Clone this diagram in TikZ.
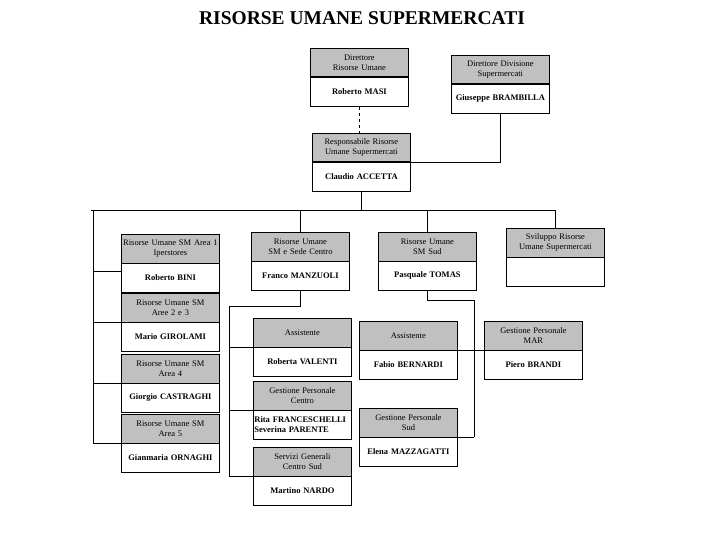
\documentclass[tikz,border=0pt]{standalone}
\usepackage{fontspec}
\setmainfont{Liberation Serif}
\usetikzlibrary{positioning, calc}

\definecolor{headgray}{RGB}{192,192,192}

\begin{document}
\begin{tikzpicture}[x=1pt, y=-1pt, line width=0.8pt,
  head/.style={draw, fill=headgray, anchor=north west, minimum width=98pt,
    minimum height=28.5pt, text width=98pt, inner xsep=0pt, inner ysep=0pt,
    align=center, font=\fontsize{8.5}{10.5}\selectfont},
  body/.style={draw, fill=white, below=0pt of #1, minimum width=98pt,
    minimum height=28.5pt, text width=96pt, inner xsep=1pt, inner ysep=0pt,
    align=center, font=\fontsize{8.5}{10}\selectfont\bfseries}]
  \useasboundingbox (0,0) rectangle (720,540);

  \node[font=\fontsize{19.5}{22}\selectfont\bfseries] (title) at (362,18) {RISORSE UMANE SUPERMERCATI};

  % top management
  \node[head] (dru) at (310,48) {Direttore\\Risorse Umane};
  \node[body=dru] (druN) {Roberto MASI};
  \node[head] (dds) at (451,55) {Direttore Divisione\\Supermercati};
  \node[body=dds] (ddsN) {Giuseppe BRAMBILLA};
  \node[head] (rru) at (312,133) {Responsabile Risorse\\Umane Supermercati};
  \node[body=rru] (rruN) {Claudio ACCETTA};

  % second row
  \node[head] (a1) at (121,234) {Risorse Umane SM Area 1\\Iperstores};
  \node[body=a1] (a1N) {Roberto BINI};
  \node[head] (sc) at (251,232) {Risorse Umane\\SM e Sede Centro};
  \node[body=sc] (scN) {Franco MANZUOLI};
  \node[head] (sud) at (378,232) {Risorse Umane\\SM Sud};
  \node[body=sud] (sudN) {Pasquale TOMAS};
  \node[head] (svi) at (506,228) {Sviluppo Risorse\\Umane Supermercati};
  \node[body=svi] (sviN) {};

  % areas
  \node[head] (a23) at (121,293) {Risorse Umane SM\\Aree 2 e 3};
  \node[body=a23] (a23N) {Mario GIROLAMI};
  \node[head] (a4) at (121,354) {Risorse Umane SM\\Area 4};
  \node[body=a4] (a4N) {Giorgio CASTRAGHI};
  \node[head] (a5) at (121,414) {Risorse Umane SM\\Area 5};
  \node[body=a5] (a5N) {Gianmaria ORNAGHI};

  % centro
  \node[head] (asc) at (253,318) {Assistente};
  \node[body=asc] (ascN) {Roberta VALENTI};
  \node[head] (gpc) at (253,381) {Gestione Personale\\Centro};
  \node[body=gpc, align=left] (gpcN) {Rita FRANCESCHELLI\\Severina PARENTE};
  \node[head] (sgc) at (253,447) {Servizi Generali\\Centro Sud};
  \node[body=sgc] (sgcN) {Martino NARDO};

  % sud
  \node[head] (asu) at (359,321) {Assistente};
  \node[body=asu] (asuN) {Fabio BERNARDI};
  \node[head] (mar) at (484,321) {Gestione Personale\\MAR};
  \node[body=mar] (marN) {Piero BRANDI};
  \node[head] (gps) at (359,408) {Gestione Personale\\Sud};
  \node[body=gps] (gpsN) {Elena MAZZAGATTI};

  % connectors
  \draw[dashed] (druN.south) -- (druN.south |- rru.north);
  \draw (ddsN.south) |- (rru.south east);

  \coordinate (lv) at (93,210);
  \draw (rruN.south) -- (rruN.south |- lv);
  \draw (91,210) -- (svi.north |- lv) -- (svi.north);
  \draw (sc.north |- lv) -- (sc.north);
  \draw (sud.north |- lv) -- (sud.north);

  \draw (lv) -- (lv |- a5.south west);
  \coordinate (a1w) at ([yshift=-8pt]a1.south west);
  \draw (a1w) -- (a1w -| lv);
  \draw (a23.south west) -- (a23.south west -| lv);
  \draw (a4.south west) -- (a4.south west -| lv);
  \draw (a5.south west) -- (a5.south west -| lv);

  \coordinate (scj) at (229,306);
  \draw (scN.south) |- (scj) -- (scj |- sgc.south west);
  \draw (asc.south west) -- (asc.south west -| scj);
  \draw (gpc.south west) -- (gpc.south west -| scj);
  \draw (sgc.south west) -- (sgc.south west -| scj);

  \coordinate (sudj) at (474,300);
  \draw (sudN.south) |- (sudj) -- (sudj |- gps.south east);
  \draw (gps.south east) -- (gps.south east -| sudj);
  \draw (asu.south east) -- (mar.south west);
\end{tikzpicture}
\end{document}
